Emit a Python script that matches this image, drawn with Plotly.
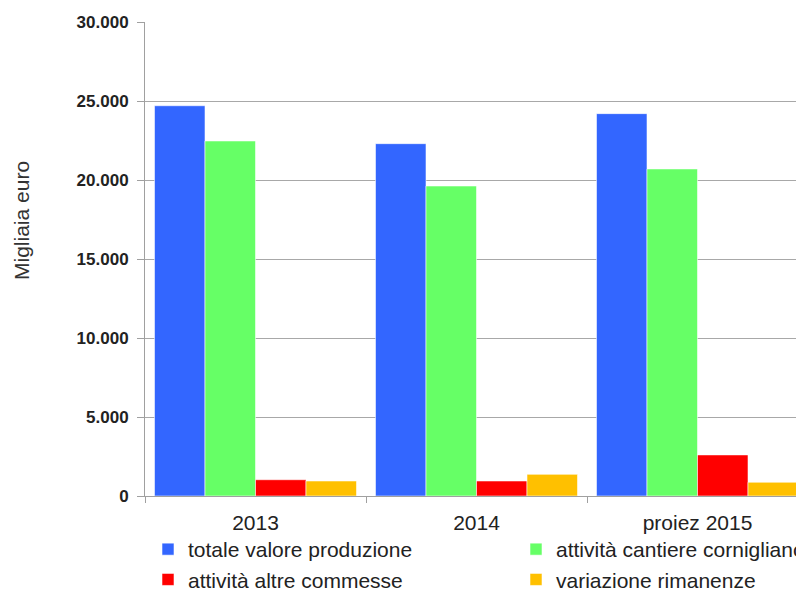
import plotly.graph_objects as go

categories = ["2013", "2014", "proiez 2015"]
series_names = ["totale valore produzione", "attività cantiere cornigliano",
                "attività altre commesse", "variazione rimanenze"]
totale = [24700, 22300, 24200]
cornigliano = [22470, 19620, 20700]
altre = [1030, 950, 2600]
rimanenze = [950, 1370, 870]
y_ticks = [0, 5000, 10000, 15000, 20000, 25000, 30000]

colors = ["#3366FF", "#66FF66", "#FF0000", "#FFC000"]
values = [totale, cornigliano, altre, rimanenze]
legend_cols = ["legend", "legend2", "legend", "legend2"]

fig = go.Figure()
for i, (name, vals, col, lg) in enumerate(zip(series_names, values, colors, legend_cols)):
    fig.add_trace(go.Bar(
        x=categories, y=vals, name=name, legend=lg, legendgroup="g%d" % i,
        marker=dict(color=col, line=dict(color="rgba(255,255,255,0.55)", width=1)),
    ))

# page body has an 8px margin: work in window pixels, convert to figure pixels
OFF = 8
W, H = 804 - OFF, 592 - OFF
L, T = 145 - OFF, 22 - OFF
R = 0
B = H - (496 - OFF)
pw, ph = W - L - R, H - T - B


def px_x(xw):
    return (xw - OFF - L) / pw


def px_y(yw):
    return (T + ph - (yw - OFF)) / ph


legend_common = dict(
    orientation="v", xanchor="left", yanchor="top",
    font=dict(size=21, color="#222222"), tracegroupgap=4,
    traceorder="normal", bgcolor="rgba(0,0,0,0)", borderwidth=0,
)

fig.update_layout(
    width=W, height=H,
    margin=dict(l=L, r=R, t=T, b=B, autoexpand=False),
    paper_bgcolor="white", plot_bgcolor="white",
    barmode="group", bargap=0.086, bargroupgap=0,
    separators=",.",
    font=dict(family="Liberation Sans, Arial, sans-serif", color="#222222"),
    showlegend=True,
    legend=dict(x=px_x(148), y=px_y(529), **legend_common),
    legend2=dict(x=px_x(516), y=px_y(529), **legend_common),
    xaxis=dict(
        type="category", range=[-0.5, -0.5 + pw / 221.0],
        showline=True, linecolor="#A0A0A0", linewidth=1,
        ticks="outside", tickson="boundaries", ticklen=6, tickcolor="#A0A0A0",
        tickfont=dict(size=21, color="#222222"), ticklabelstandoff=8,
        showgrid=False, zeroline=False, fixedrange=True,
    ),
    yaxis=dict(
        range=[0, 30000], tickvals=y_ticks, tickformat=",d",
        showline=True, linecolor="#A0A0A0", linewidth=1,
        ticks="outside", ticklen=7, tickcolor="#A0A0A0",
        tickfont=dict(size=17, color="#222222", weight="bold"),
        ticklabelstandoff=5,
        showgrid=True, gridcolor="#A8A8A8", gridwidth=1, zeroline=False,
    ),
    annotations=[dict(
        text="Migliaia euro", xref="paper", yref="paper",
        x=px_x(21), y=px_y(220), xanchor="center", yanchor="middle",
        textangle=-90, showarrow=False, font=dict(size=21, color="#333333"),
    )],
)

fig.write_html("out.html")
